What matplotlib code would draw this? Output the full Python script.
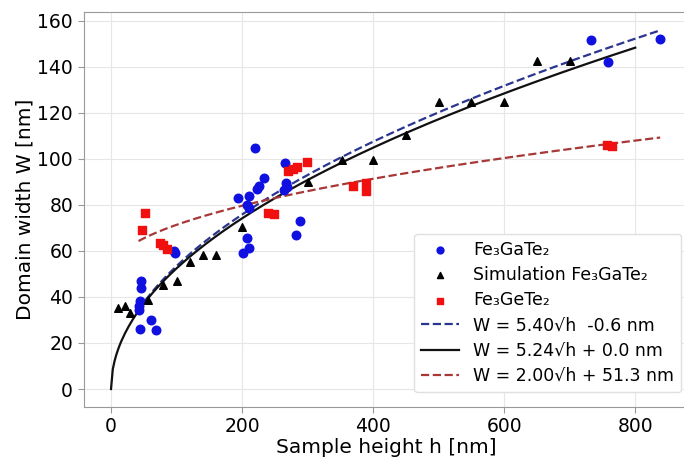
import numpy as np
import matplotlib
matplotlib.use("Agg")
import matplotlib.pyplot as plt

# Fe3GaTe2 experimental data
ga_h = [45, 45, 44, 43, 42, 61, 44, 68, 96, 98,
        220, 266, 233, 226, 222, 210, 194, 207, 210, 267, 269, 264,
        288, 282, 207, 210, 202, 732, 758, 837]
ga_w = [47, 43.7, 38.2, 36, 34.3, 30, 26, 25.6, 60, 58.9,
        104.5, 98, 91.5, 88.1, 86.7, 83.8, 82.8, 79.9, 78.5, 89.3, 87.6, 86.4,
        73.1, 66.9, 65.4, 61.1, 59.2, 151.5, 142.1, 151.8]

# Simulation Fe3GaTe2
sim_h = [11, 21, 29, 57, 80, 100, 120, 141, 160, 200, 300, 352, 400, 450, 500, 550, 600, 650, 700]
sim_w = [35, 36, 33, 38.6, 45, 47, 55, 58, 58, 70.5, 90, 99.4, 99.4, 110.3, 124.5, 124.5, 124.8, 142.4, 142.4]

# Fe3GeTe2 experimental data
ge_h = [48, 52, 74, 79, 85, 240, 248, 270, 277, 284, 299, 370, 389, 389, 757, 764]
ge_w = [69, 76.5, 63.5, 62.5, 61, 76.5, 76, 94.5, 95.5, 96.5, 98.5, 88, 89.5, 86, 106, 105.5]

# fit parameters  W = a*sqrt(h) + b
fit_ga = (5.40, -0.6)
fit_sim = (5.24, 0.0)
fit_ge = (2.00, 51.3)

plt.rcParams['font.family'] = ['DejaVu Sans']
fig = plt.figure(figsize=(6.84, 4.57), dpi=100)
ax = fig.add_axes([83.5/684, 50/457, (689-83.5)/684, 395/457])

ax.grid(True, color='#e6e6e6', linewidth=0.8, zorder=0)
ax.set_axisbelow(True)

ax.scatter(ga_h, ga_w, s=38, color='#1010e0', marker='o', label='Fe₃GaTe₂', zorder=3)
ax.scatter(sim_h, sim_w, s=30, color='black', marker='^', label='Simulation Fe₃GaTe₂', zorder=3)
ax.scatter(ge_h, ge_w, s=34, color='#f01010', marker='s', label='Fe₃GeTe₂', zorder=3)

h_exp = np.linspace(42, 838, 300)
h_sim = np.linspace(0, 800, 300)
ax.plot(h_exp, fit_ga[0]*np.sqrt(h_exp) + fit_ga[1], '--', color='#2a3590', lw=1.6,
        label='W = 5.40√h  -0.6 nm', zorder=2)
ax.plot(h_sim, fit_sim[0]*np.sqrt(h_sim) + fit_sim[1], '-', color='#111111', lw=1.6,
        label='W = 5.24√h + 0.0 nm', zorder=2)
ax.plot(h_exp, fit_ge[0]*np.sqrt(h_exp) + fit_ge[1], '--', color='#a83838', lw=1.6,
        label='W = 2.00√h + 51.3 nm', zorder=2)

ax.set_xlim(-42, 882)
ax.set_ylim(-7.8, 163.7)
ax.set_xticks([0, 200, 400, 600, 800])
ax.set_yticks(range(0, 161, 20))
ax.tick_params(labelsize=13.5, color='#999999', length=4)
for s in ax.spines.values():
    s.set_color('#999999')
ax.set_xlabel('Sample height h [nm]', fontsize=14.5, labelpad=1)
ax.set_ylabel('Domain width W [nm]', fontsize=14.5, labelpad=2)

ax.legend(loc='lower right', bbox_to_anchor=(681/684, (457-392)/457), bbox_transform=fig.transFigure,
          borderaxespad=0, fontsize=12.5, frameon=True, framealpha=1, edgecolor='#e0e0e0',
          fancybox=True, handlelength=2.2, handletextpad=0.8, borderpad=0.4,
          labelspacing=0.42, markerscale=0.8)

fig.savefig('out.png', dpi=100)
